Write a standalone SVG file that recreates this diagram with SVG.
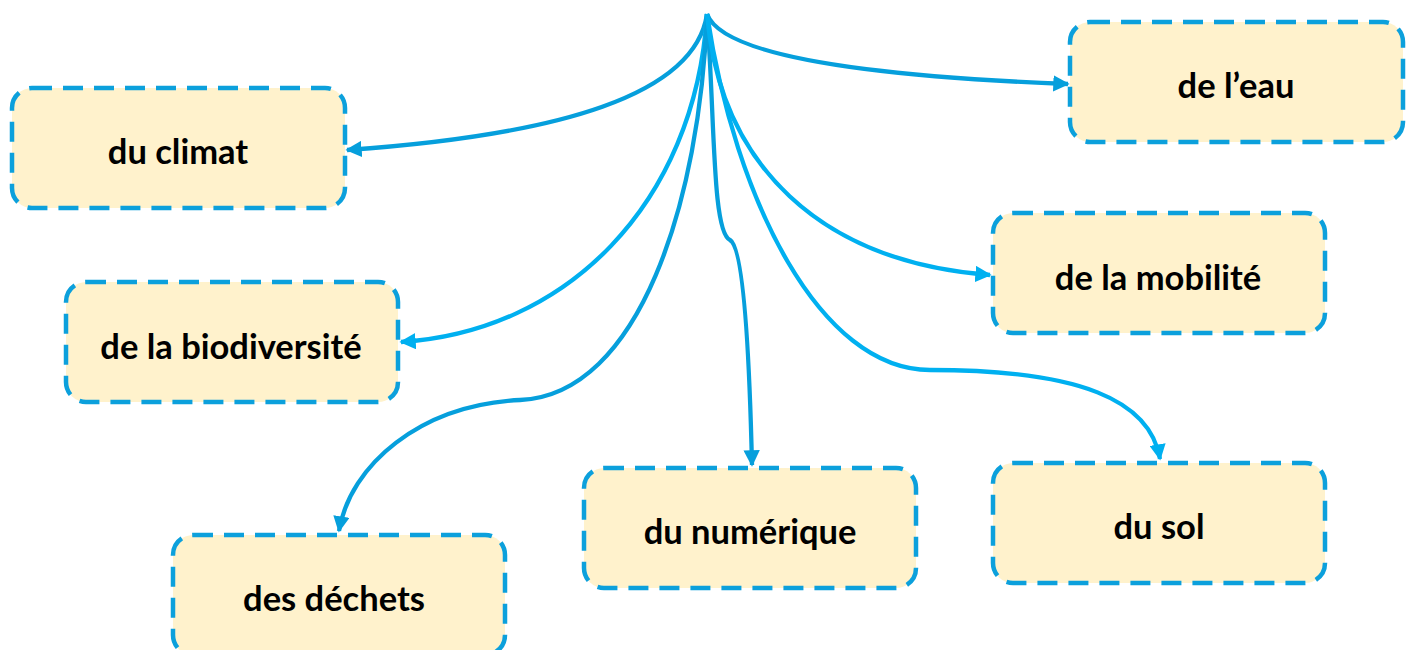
<svg xmlns="http://www.w3.org/2000/svg" width="1413" height="650" viewBox="0 0 1413 650">
<style>
.box{fill:#FFF2CC;stroke:#0CA0DC;stroke-width:4.5;stroke-dasharray:20 11}
.lbl{font-family:Lato,"Open Sans","Liberation Sans",sans-serif;font-weight:bold;font-size:34.5px;fill:#000;text-anchor:middle;dominant-baseline:central}
.c1{fill:none;stroke:#069FDC;stroke-width:4.3;marker-end:url(#a1)}
.c2{fill:none;stroke:#00B0F0;stroke-width:4.3;marker-end:url(#a2)}
</style>
<defs>
<marker id="a1" viewBox="0 0 10 10" refX="9" refY="5" markerWidth="3.8" markerHeight="3.8" orient="auto" markerUnits="strokeWidth"><path d="M0,0L10,5L0,10z" fill="#069FDC"/></marker>
<marker id="a2" viewBox="0 0 10 10" refX="9" refY="5" markerWidth="3.8" markerHeight="3.8" orient="auto" markerUnits="strokeWidth"><path d="M0,0L10,5L0,10z" fill="#00B0F0"/></marker>
</defs>
<g id="connectors">
<path class="c1" d="M707,14 C695,95 560,135 347,150"/>
<path class="c1" d="M707,14 C722,55 860,76 1068,84"/>
<path class="c2" d="M707,14 C695,205 565,332 401,342"/>
<path class="c1" d="M707,14 C700,200 640,395 520,400 C420,405 350,465 339,531"/>
<path class="c1" d="M707,14 C715,120 712,232 730,240 C745,248 750,380 752,465"/>
<path class="c2" d="M707,14 C720,165 820,262 990,275"/>
<path class="c2" d="M707,14 C735,200 820,370 930,370 C1080,370 1150,400 1160,459"/>
</g>
<g id="n-climat"><rect class="box" x="12" y="88" width="333" height="120" rx="20"/><text class="lbl" x="178" y="150">du climat</text></g>
<g id="n-eau"><rect class="box" x="1070" y="22" width="333" height="120" rx="20"/><text class="lbl" x="1236" y="84">de l’eau</text></g>
<g id="n-biodiversite"><rect class="box" x="66" y="282" width="332" height="120" rx="20"/><text class="lbl" x="231" y="345">de la biodiversité</text></g>
<g id="n-mobilite"><rect class="box" x="993" y="213" width="332" height="120" rx="20"/><text class="lbl" x="1158" y="276">de la mobilité</text></g>
<g id="n-dechets"><rect class="box" x="173" y="535" width="332" height="120" rx="20"/><text class="lbl" x="334" y="597">des déchets</text></g>
<g id="n-numerique"><rect class="box" x="584" y="468" width="332" height="120" rx="20"/><text class="lbl" x="750" y="530">du numérique</text></g>
<g id="n-sol"><rect class="box" x="993" y="463" width="332" height="120" rx="20"/><text class="lbl" x="1159" y="525">du sol</text></g>
</svg>
